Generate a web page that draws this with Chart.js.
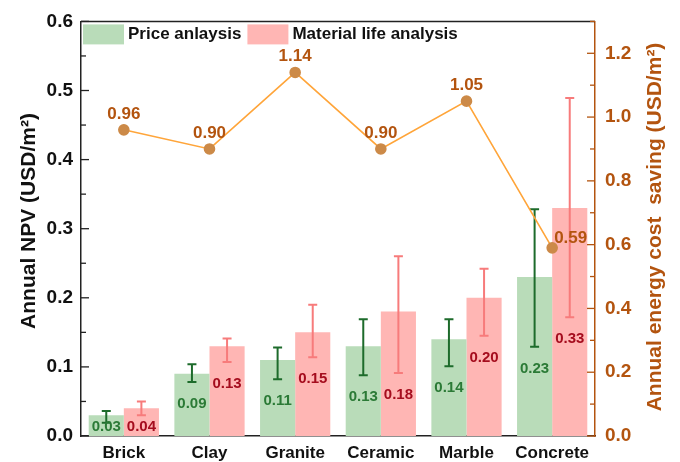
<!DOCTYPE html>
<html>
<head>
<meta charset="utf-8">
<script src="https://cdn.jsdelivr.net/npm/chart.js@4"></script>
<style>
  body { margin: 0; background: #fff; }
</style>
</head>
<body>
<canvas id="npvChart" width="680" height="462"></canvas>
<script>
var categories = ['Brick', 'Clay', 'Granite', 'Ceramic', 'Marble', 'Concrete'];

// annual NPV, price based (value, lower and upper error)
var priceNpv = [0.03, 0.09, 0.11, 0.13, 0.14, 0.23];
var priceLow = [0.019, 0.078, 0.082, 0.088, 0.101, 0.129];
var priceHigh = [0.036, 0.104, 0.128, 0.169, 0.169, 0.328];

// annual NPV, material life based
var lifeNpv = [0.04, 0.13, 0.15, 0.18, 0.20, 0.33];
var lifeLow = [0.030, 0.107, 0.114, 0.091, 0.145, 0.172];
var lifeHigh = [0.050, 0.141, 0.190, 0.260, 0.242, 0.489];

// annual energy cost saving, right axis
var energySaving = [0.96, 0.90, 1.14, 0.90, 1.05, 0.59];

var leftTicks = [0, 0.1, 0.2, 0.3, 0.4, 0.5, 0.6];
var rightTicks = [0, 0.2, 0.4, 0.6, 0.8, 1.0, 1.2];

var FONT = '"Liberation Sans", Arial, sans-serif';
var BROWN = '#b3540f';

var errors = [
  { low: priceLow, high: priceHigh, color: '#1d6b2b' },
  { low: lifeLow, high: lifeHigh, color: '#f77b7b' }
];

// error bars drawn right after each bar dataset, under the line
var errorBars = {
  id: 'errorBars',
  afterDatasetDraw: function (chart, args) {
    var e = errors[args.index];
    if (!e) return;
    var ctx = chart.ctx, y = chart.scales.y;
    ctx.save();
    ctx.strokeStyle = e.color;
    ctx.lineWidth = 2;
    args.meta.data.forEach(function (bar, i) {
      var top = y.getPixelForValue(e.high[i]);
      var bot = y.getPixelForValue(e.low[i]);
      ctx.beginPath();
      ctx.moveTo(bar.x, top); ctx.lineTo(bar.x, bot);
      ctx.moveTo(bar.x - 4.5, top); ctx.lineTo(bar.x + 4.5, top);
      ctx.moveTo(bar.x - 4.5, bot); ctx.lineTo(bar.x + 4.5, bot);
      ctx.stroke();
    });
    ctx.restore();
  }
};

var valueLabels = {
  id: 'valueLabels',
  afterDatasetsDraw: function (chart) {
    var ctx = chart.ctx, a = chart.chartArea, y = chart.scales.y;
    ctx.save();
    ctx.textAlign = 'center';
    ctx.textBaseline = 'middle';
    ctx.font = 'bold 15px ' + FONT;
    var cols = ['#2b7a36', '#a50d1e'];
    [priceNpv, lifeNpv].forEach(function (vals, d) {
      var meta = chart.getDatasetMeta(d);
      ctx.fillStyle = cols[d];
      vals.forEach(function (v, i) {
        var py = Math.min(y.getPixelForValue(errors[d].low[i]) + 22, a.bottom - 9);
        ctx.fillText(v.toFixed(2), meta.data[i].x, py);
      });
    });
    var lineMeta = chart.getDatasetMeta(2);
    ctx.font = 'bold 17px ' + FONT;
    ctx.fillStyle = BROWN;
    energySaving.forEach(function (v, i) {
      var p = lineMeta.data[i];
      if (i === energySaving.length - 1) {
        ctx.textAlign = 'left';
        ctx.fillText(v.toFixed(2), p.x + 2, p.y - 10);
      } else {
        ctx.textAlign = 'center';
        ctx.fillText(v.toFixed(2), p.x, p.y - 16);
      }
    });
    ctx.restore();
  }
};

// frame top edge, inward tick marks, legend and axis titles
var frame = {
  id: 'frame',
  afterDraw: function (chart) {
    var ctx = chart.ctx, a = chart.chartArea;
    var y = chart.scales.y, y2 = chart.scales.y2;
    var i, py;
    ctx.save();
    ctx.lineWidth = 1.5;
    ctx.strokeStyle = '#222';
    ctx.beginPath();
    ctx.moveTo(a.left, a.top); ctx.lineTo(a.right, a.top);
    ctx.stroke();

    ctx.lineWidth = 1.3;
    for (i = 0; i <= 12; i++) {
      py = y.getPixelForValue(i * 0.05);
      ctx.beginPath();
      ctx.moveTo(a.left, py); ctx.lineTo(a.left + (i % 2 ? 5 : 8), py);
      ctx.stroke();
    }
    ctx.strokeStyle = BROWN;
    for (i = 0; i <= 13; i++) {
      py = y2.getPixelForValue(i * 0.1);
      ctx.beginPath();
      ctx.moveTo(a.right, py); ctx.lineTo(a.right - (i % 2 ? 5 : 8), py);
      ctx.stroke();
    }

    // legend for the two bar series
    ctx.font = 'bold 17px ' + FONT;
    ctx.textBaseline = 'middle';
    ctx.textAlign = 'left';
    var lx = a.left + 2, ly = a.top + 3;
    [0, 1].forEach(function (d) {
      var ds = chart.data.datasets[d];
      ctx.fillStyle = ds.backgroundColor;
      ctx.fillRect(lx, ly, 41, 20);
      ctx.fillStyle = '#111';
      ctx.fillText(ds.label, lx + 45, ly + 10);
      lx += 45 + ctx.measureText(ds.label).width + 6;
    });

    // axis titles
    ctx.font = 'bold 21px ' + FONT;
    ctx.textAlign = 'center';
    ctx.fillStyle = '#111';
    ctx.save();
    ctx.translate(29, 221);
    ctx.rotate(-Math.PI / 2);
    ctx.fillText('Annual NPV (USD/m\u00b2)', 0, 0);
    ctx.restore();
    ctx.fillStyle = BROWN;
    ctx.save();
    ctx.translate(655, 227);
    ctx.rotate(-Math.PI / 2);
    ctx.fillText('Annual energy cost  saving (USD/m\u00b2)', 0, 0);
    ctx.restore();
    ctx.restore();
  }
};

var ctx = document.getElementById('npvChart').getContext('2d');
var npvChart = new Chart(ctx, {
  data: {
    labels: categories,
    datasets: [{
      type: 'bar',
      label: 'Price anlaysis',
      data: priceNpv,
      backgroundColor: '#b9dcb9',
      yAxisID: 'y',
      order: 1
    }, {
      type: 'bar',
      label: 'Material life analysis',
      data: lifeNpv,
      backgroundColor: '#ffb6b4',
      yAxisID: 'y',
      order: 1
    }, {
      type: 'line',
      label: 'Energy cost saving',
      data: energySaving,
      borderColor: '#ffa53a',
      borderWidth: 1.6,
      pointRadius: 5,
      pointBackgroundColor: '#cc8a48',
      pointBorderColor: '#cc8a48',
      yAxisID: 'y2',
      order: 0
    }]
  },
  options: {
    responsive: false,
    animation: false,
    layout: { padding: { top: 20, left: 0, right: 0, bottom: 0 } },
    datasets: {
      bar: { categoryPercentage: 0.82, barPercentage: 1.0 }
    },
    plugins: {
      legend: { display: false },
      tooltip: { enabled: false }
    },
    scales: {
      x: {
        grid: { display: false, drawTicks: false },
        border: { color: '#222', width: 1.5 },
        ticks: { color: '#111', padding: 7, font: { family: FONT, size: 17, weight: 'bold' } },
        afterFit: function (s) { s.height = 26; }
      },
      y: {
        position: 'left',
        min: 0,
        max: 0.6,
        afterBuildTicks: function (s) { s.ticks = leftTicks.map(function (v) { return { value: v }; }); },
        grid: { display: false, drawTicks: false },
        border: { color: '#222', width: 1.5 },
        ticks: {
          color: '#111', padding: 8,
          font: { family: FONT, size: 19, weight: 'bold' },
          callback: function (v) { return v.toFixed(1); }
        },
        afterFit: function (s) { s.width = 81; }
      },
      y2: {
        position: 'right',
        min: 0,
        max: 1.3,
        afterBuildTicks: function (s) { s.ticks = rightTicks.map(function (v) { return { value: v }; }); },
        grid: { display: false, drawTicks: false },
        border: { color: BROWN, width: 1.5 },
        ticks: {
          color: BROWN, padding: 10,
          font: { family: FONT, size: 19, weight: 'bold' },
          callback: function (v) { return v.toFixed(1); }
        },
        afterFit: function (s) { s.width = 85; }
      }
    }
  },
  plugins: [errorBars, valueLabels, frame]
});
</script>
</body>
</html>
